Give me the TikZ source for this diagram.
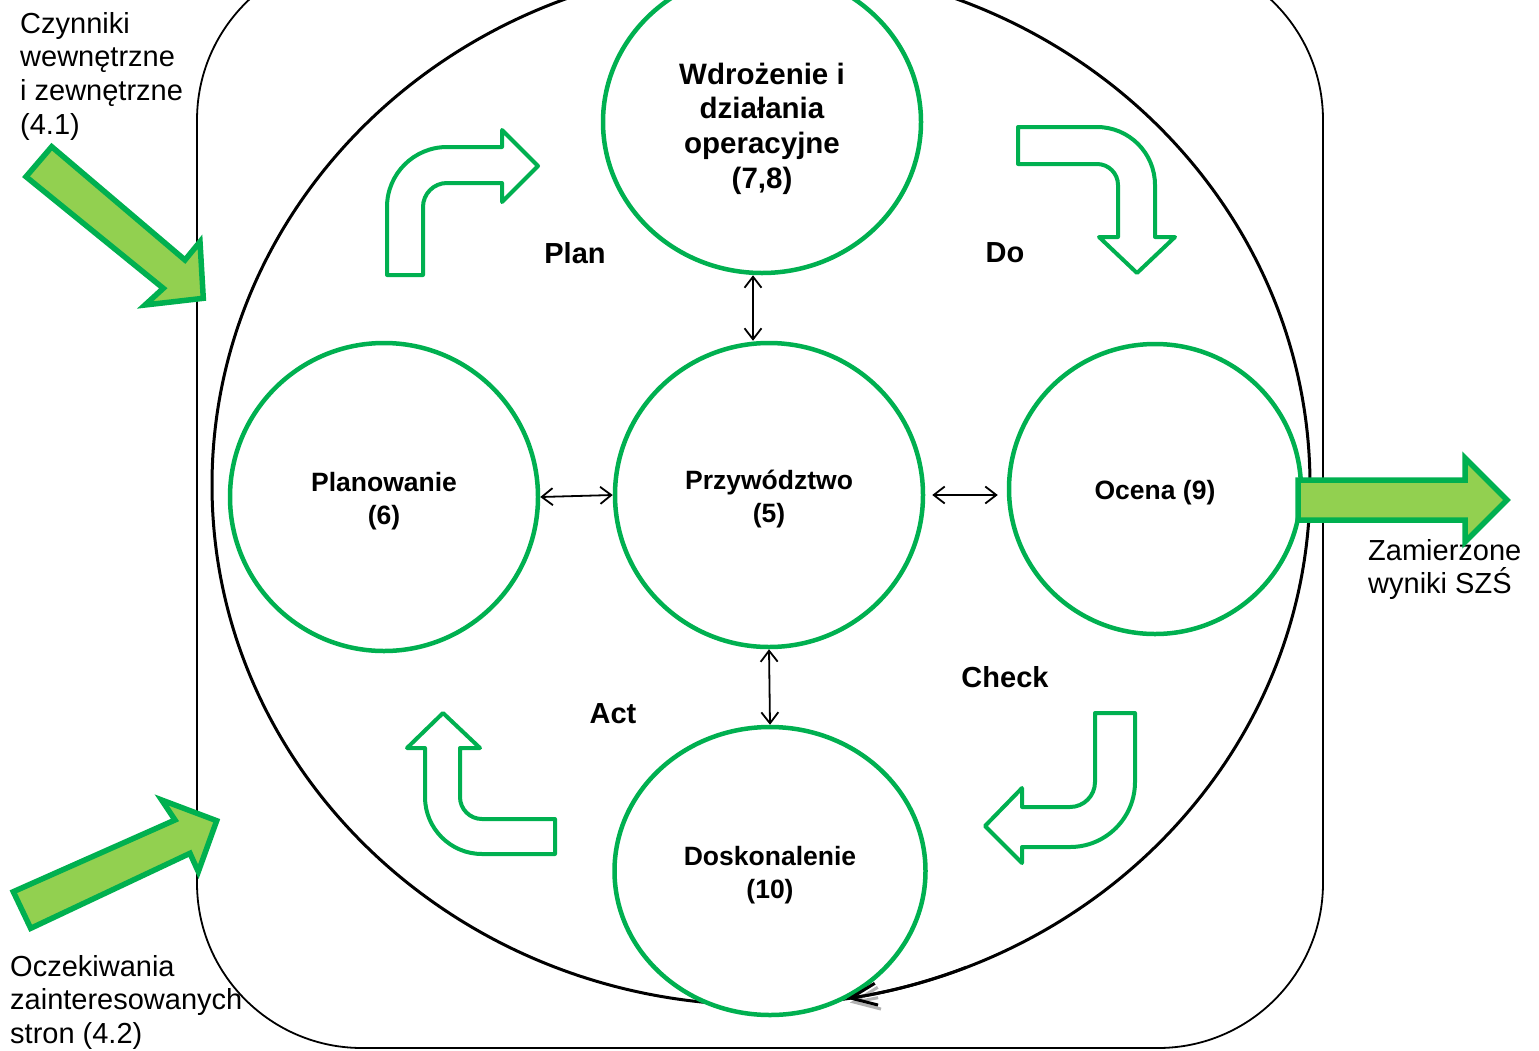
\documentclass[tikz,border=0pt]{standalone}
\usepackage{fontspec}
\setmainfont{Liberation Sans}
\usetikzlibrary{shapes.geometric, arrows.meta}

\definecolor{pdcagreen}{RGB}{0,176,80}
\definecolor{pdcalime}{RGB}{146,208,80}
\newcommand{\stagegap}[1]{\rule{0pt}{#1}}

\begin{document}
\begin{tikzpicture}[x=1pt, y=-1pt,
    stage/.style={ellipse, draw=pdcagreen, line width=4.5pt, fill=white, inner sep=0pt, align=center, font=\bfseries\fontsize{26.5}{32.5}\selectfont},
    phase/.style={inner sep=0pt, font=\bfseries\fontsize{29}{34}\selectfont},
    side/.style={anchor=north west, align=left, inner sep=0pt, font=\fontsize{29}{33.7}\selectfont},
    turn/.style={draw=pdcagreen, line width=4pt, fill=white, line join=round},
    push/.style={draw=pdcagreen, line width=5.5pt, fill=pdcalime},
    link/.style={{Straight Barb[length=11pt,width=17pt]}-{Straight Barb[length=11pt,width=17pt]}, line width=1.8pt}]
  \useasboundingbox (0,0) rectangle (1539,1050);

  % frame and cycle
  \draw[line width=1.8pt, rounded corners=165pt] (197,-45) rectangle (1323,1048);
  \draw[line width=3pt] (761,485) ellipse [x radius=549pt, y radius=520pt];

  \node[stage, minimum width=318pt, minimum height=302pt, font=\bfseries\fontsize{29.5}{34.7}\selectfont] (impl) at (762,122) {\stagegap{34.5pt}Wdrożenie i\\działania\\operacyjne\\(7,8)};
  \node[stage, minimum width=308pt, minimum height=304pt] (lead) at (769,495) {\stagegap{27pt}Przywództwo\\(5)};
  \node[stage, minimum width=308pt, minimum height=308pt] (plan) at (384,497) {\stagegap{27pt}Planowanie\\(6)};
  \node[stage, minimum width=292pt, minimum height=290pt] (eval) at (1155,489) {\stagegap{27pt}Ocena (9)};
  \node[stage, minimum width=311pt, minimum height=288pt] (impr) at (770,871) {\stagegap{27pt}Doskonalenie\\(10)};

  \draw[gray!60, line width=3pt, shift={(3,4)}, -{Straight Barb[length=26pt,width=22pt]}] (761,485) ++(282:549pt and 520pt) arc[start angle=282, end angle=279, x radius=549pt, y radius=520pt];
  \draw[line width=3pt, -{Straight Barb[length=26pt,width=22pt]}] (761,485) ++(292:549pt and 520pt) arc[start angle=292, end angle=279, x radius=549pt, y radius=520pt];

  \node[phase] (plantxt) at (575,253) {Plan};
  \node[phase] (dotxt) at (1005,253) {Do};
  \node[phase] (checktxt) at (1005,677) {Check};
  \node[phase] (acttxt) at (613,714) {Act};

  \node[side] (inner) at (20,12) {Czynniki\\wewnętrzne\\i zewnętrzne\\(4.1)};
  \node[side] (parties) at (10,955) {Oczekiwania\\zainteresowanych\\stron (4.2)};
  \node[side] (result) at (1368,539) {Zamierzone\\wyniki SZŚ};

  \coordinate (evalin) at ([xshift=-9pt]eval.west);
  \draw[link] ([xshift=-9pt]impl.south) -- ([xshift=-16pt]lead.north);
  \draw[link] (lead.south) -- (impr.north);
  \draw[link] (plan.east) -- (lead.west);
  \draw[link] ([xshift=7pt]lead.east) -- (evalin |- lead.east);

  % bent arrows
  \draw[turn] (387,275) -- (387,207) arc[start angle=180, end angle=90, radius=60pt] -- (502,147) -- (502,130) -- (538,166) -- (502,202) -- (502,183) -- (447,183) arc[start angle=90, end angle=180, radius=24pt] -- (423,275) -- cycle;
  \draw[turn] (1018,127) -- (1097,127) arc[start angle=90, end angle=0, radius=58pt] -- (1155,237) -- (1175,237) -- (1137,273) -- (1099,237) -- (1118,237) -- (1118,185) arc[start angle=0, end angle=90, radius=21pt] -- (1018,164) -- cycle;
  \draw[turn] (555,854) -- (482,854) arc[start angle=270, end angle=180, radius=57pt] -- (425,748) -- (407,748) -- (443,713) -- (480,748) -- (460,748) -- (460,797) arc[start angle=180, end angle=270, radius=22pt] -- (555,819) -- cycle;
  \draw[turn] (1095,713) -- (1135,713) -- (1135,782) arc[start angle=0, end angle=-90, radius=65pt] -- (1022,847) -- (1022,863) -- (985,826) -- (1022,788) -- (1022,807) -- (1070,807) arc[start angle=270, end angle=360, radius=25pt] -- cycle;

  % inputs and output
  \draw[push] (51.7,146.7) -- (185,260) -- (200,241.7) -- (203.3,298.3) -- (145,305) -- (163.3,288.3) -- (26,176.7) -- cycle;
  \draw[push] (13.3,891.7) -- (175,820) -- (161.7,800) -- (216.7,820.7) -- (198.3,871.7) -- (190,853.3) -- (30.7,928.3) -- cycle;
  \draw[push] (1298,480) -- (1465,480) -- (1465,458) -- (1507,500) -- (1465,542) -- (1465,520) -- (1298,520) -- cycle;
\end{tikzpicture}
\end{document}
